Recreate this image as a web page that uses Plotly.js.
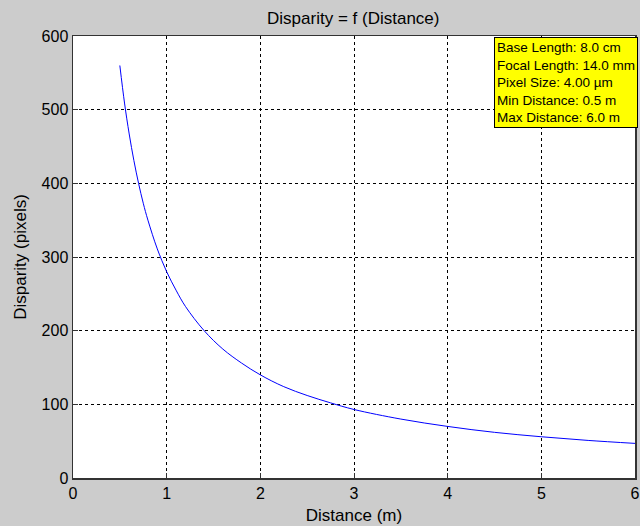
<!DOCTYPE html>
<html><head><meta charset="utf-8">
<script src="https://cdn.plot.ly/plotly-3.0.1.min.js"></script>
<style>html,body{margin:0;padding:0;background:#cccccc;overflow:hidden;}#plot{width:640px;height:526px;}</style>
</head><body><div id="plot"></div>
<script>
const distance = [0.5, 0.55, 0.6, 0.65, 0.7, 0.75, 0.8, 0.9, 1.0, 1.1, 1.2, 1.4, 1.6, 1.8, 2.0, 2.25, 2.5, 2.75, 3.0, 3.5, 4.0, 4.5, 5.0, 5.5, 6.0];
const disparity = [560, 509, 467, 431, 400, 373, 350, 311, 280, 255, 233, 200, 175, 156, 140, 124, 112, 102, 93, 80, 70, 62, 56, 51, 47];
const infoLines = ["Base Length: 8.0 cm", "Focal Length: 14.0 mm", "Pixel Size: 4.00 µm", "Min Distance: 0.5 m", "Max Distance: 6.0 m"];
const xTicks = [0, 1, 2, 3, 4, 5, 6];
const yTicks = [0, 100, 200, 300, 400, 500, 600];

const fam = "Liberation Sans, Arial, sans-serif";
const tickFont = {family: fam, size: 16, color: "#000"};
const titleFont = {family: fam, size: 17, color: "#000"};
const axisCommon = {
  showline: true, mirror: true, linecolor: "#333", linewidth: 1.5,
  showgrid: true, gridcolor: "#000", griddash: "3px,3px", gridwidth: 1,
  ticks: "inside", ticklen: 5, tickcolor: "#333", zeroline: false,
  tickfont: tickFont
};
Plotly.newPlot("plot", [{
  x: distance, y: disparity, type: "scatter", mode: "lines",
  line: {color: "#0000ff", width: 1, shape: "spline"}
}], {
  width: 640, height: 526,
  paper_bgcolor: "#cccccc", plot_bgcolor: "#ffffff",
  margin: {l: 73, r: 5, t: 36, b: 48},
  showlegend: false,
  font: tickFont,
  title: {text: "Disparity = f (Distance)", font: titleFont, x: 0.552, xanchor: "center", y: 0.966, yanchor: "middle"},
  xaxis: Object.assign({}, axisCommon, {range: [0, 6], tickvals: xTicks, ticktext: xTicks.map(String),
    title: {text: "Distance (m)", font: titleFont, standoff: 8}}),
  yaxis: Object.assign({}, axisCommon, {range: [0, 600], tickvals: yTicks, ticktext: yTicks.map(String),
    title: {text: "Disparity (pixels)", font: titleFont, standoff: 10}}),
  annotations: [{
    xref: "paper", yref: "paper", x: 0.7495, y: 0.998, xanchor: "left", yanchor: "top",
    text: infoLines.join("<br>"), align: "left", showarrow: false,
    bgcolor: "#ffff00", bordercolor: "#000", borderwidth: 1, borderpad: 2,
    font: {family: fam, size: 13.5, color: "#000"}
  }]
}, {displayModeBar: false, staticPlot: true});
</script></body></html>
